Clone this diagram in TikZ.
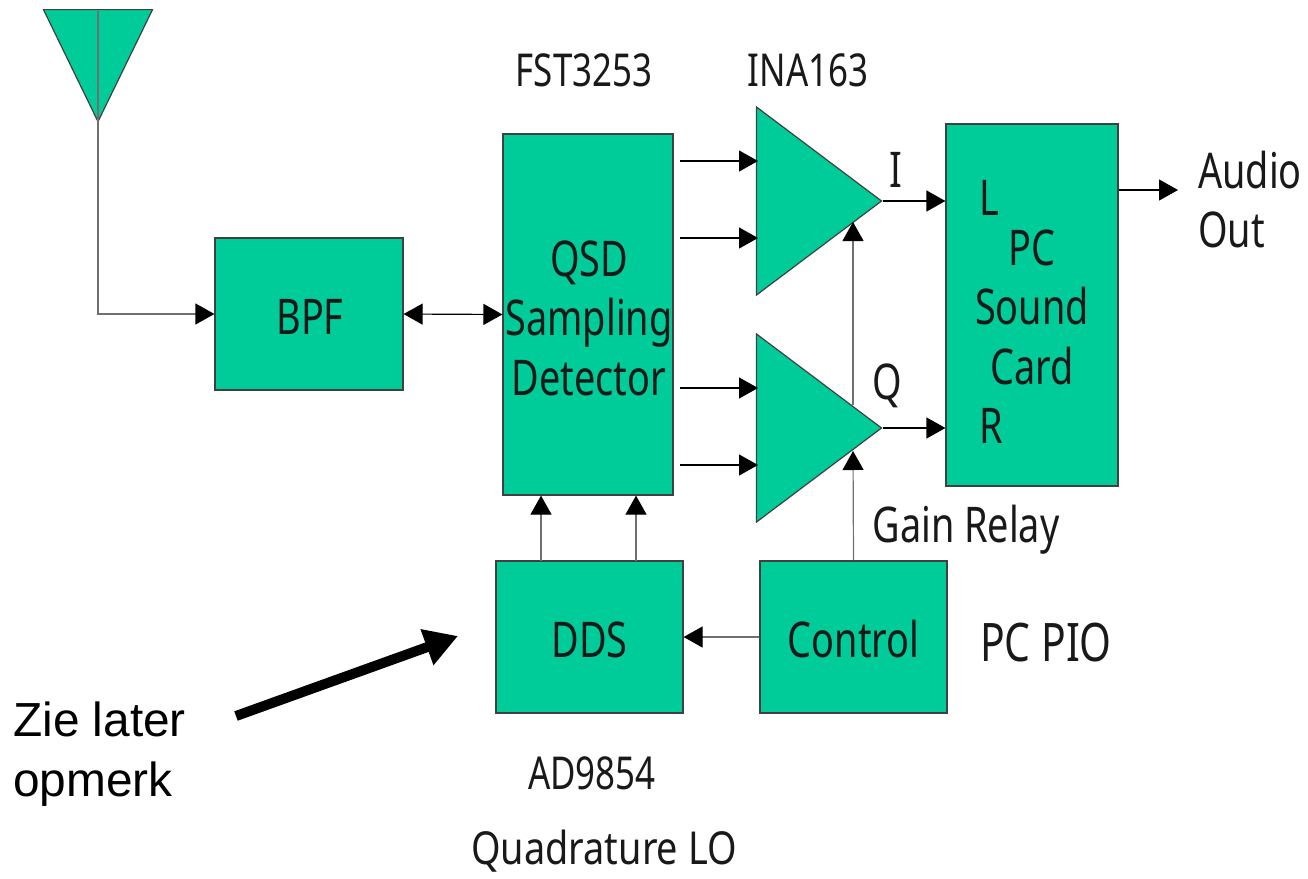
\documentclass[tikz,border=0pt]{standalone}
\usepackage{fontspec}
\setmainfont{Noto Sans}
\newfontfamily\notefont{Liberation Sans}
\usetikzlibrary{arrows.meta,shapes.geometric,positioning,calc}
\definecolor{block}{HTML}{00CC99}
\definecolor{wire}{HTML}{707070}
\newcommand\tall[2][c]{\scalebox{1}[1.3]{\begin{tabular}{@{}#1@{}}#2\end{tabular}}}
\begin{document}
\begin{tikzpicture}[
  x=1bp, y=-1bp,
  every node/.style={font=\fontsize{38}{46}\selectfont, inner sep=0pt},
  blockbox/.style={rectangle, draw=black!75, fill=block, line width=1.2bp, align=center},
  amp/.style={isosceles triangle, isosceles triangle apex angle=74,
              isosceles triangle stretches, draw=black!75, fill=block, line width=1.2bp,
              minimum width=188bp, minimum height=125bp, anchor=apex},
  caption/.style={text=black!90, yshift=-5bp},
  chipname/.style={caption, font=\fontsize{35}{46}\selectfont},
  arr/.style={-{Triangle[length=19bp,width=21bp]}, line width=1.2bp},
  grayarr/.style={arr, draw=wire, -{Triangle[length=19bp,width=21bp,color=black]}},
]
\useasboundingbox (0,0) rectangle (1308,878);

% antenna
\node[isosceles triangle, isosceles triangle apex angle=52, isosceles triangle stretches,
      shape border rotate=-90, draw=black!75, fill=block, line width=1.2bp,
      minimum width=109bp, minimum height=112bp, anchor=apex] (ant) at (98,123) {};
\coordinate (anttop) at (98,11);

\node[blockbox, minimum width=188bp, minimum height=152bp] (bpf) at (309,314) {};
\node[caption] (bpftext) at (310,318) {\tall{BPF}};
\node[blockbox, minimum width=170bp, minimum height=361bp] (qsd) at (588,314.5) {};
\node[caption] (qsdtext) at (589,319) {\tall{QSD\\Sampling\\Detector}};
\node[blockbox, minimum width=172bp, minimum height=362bp] (card) at (1032,305) {};
\node[blockbox, minimum width=187bp, minimum height=152bp] (dds) at (589.5,637) {};
\node[caption] (ddstext) at (589.5,641) {\tall{DDS}};
\node[blockbox, minimum width=187bp, minimum height=152bp] (ctrl) at (853.5,637) {};
\node[caption] (ctrltext) at (853.5,641) {\tall{Control}};

% control lines go under the amplifiers
\coordinate (gaintop) at (853,222);
\coordinate (gainmid) at (853,405);
\coordinate (gainlow) at (853,451);
\draw[draw=wire, line width=1.2bp] (gainmid) -- (853,300);
\node[amp] (ampi) at (882.5,201) {};
\node[amp] (ampq) at (882.5,428) {};

\draw[draw=wire, line width=1.2bp] (anttop) -- (ant.apex);
\draw[grayarr] (ant.apex) |- (bpf.west);
\draw[line width=1.2bp, {Triangle[length=19bp,width=21bp]}-{Triangle[length=19bp,width=21bp]}] (bpf.east) -- (qsd.west);

% mixer outputs
\foreach \y/\n in {161/a,238/b,388/c,465/d}{
  \coordinate (out\n) at (680,\y);
  \coordinate (in\n) at (758,\y);
  \draw[arr] (out\n) -- (in\n);
}
\draw[grayarr] (gainmid) -- (gaintop);
\draw[grayarr] (ctrl.north) -- (gainlow);
\draw[arr] (ampi.apex) -- (ampi.apex -| card.west);
\draw[arr] (ampq.apex) -- (ampq.apex -| card.west);
\coordinate (audio) at (1178,190);
\draw[arr] (audio -| card.east) -- (audio);
\draw[grayarr] (ctrl.west) -- (dds.east);
\coordinate (ddsa) at (541,561);
\coordinate (ddsb) at (636,561);
\draw[grayarr] (ddsa) -- (ddsa |- qsd.south);
\draw[grayarr] (ddsb) -- (ddsb |- qsd.south);

\node[chipname] (fst) at (584,70) {\tall{FST3253}};
\node[chipname] (ina) at (808,70) {\tall{INA163}};
\node[caption] (ilabel) at (896,171) {\tall{I}};
\node[caption] (qlabel) at (887,383) {\tall{Q}};
\node[caption] (llabel) at (989,199) {\tall{L}};
\node[caption] (rlabel) at (991,427) {\tall{R}};
\node[caption] (cardtext) at (1032,308) {\tall{PC\\Sound\\Card}};
\node[caption, anchor=west] (audiotext) at (1198,201) {\tall[l]{Audio\\Out}};
\node[caption] (gain) at (966,526) {\tall{Gain Relay}};
\node[caption, font=\fontsize{41}{46}\selectfont] (pio) at (1046,645) {\tall{PC PIO}};
\node[chipname] (ad) at (592,773) {\tall{AD9854}};
\node[text=black!90] (lo) at (604,851) {\scalebox{1}[1.2]{Quadrature LO}};

\node[font=\notefont\fontsize{48}{60}\selectfont, align=left, anchor=west] (note) at (13,754) {Zie later\\opmerk};
\coordinate (notestart) at (236,716);
\coordinate (noteend) at (458,636);
\draw[-{Triangle[length=33bp,width=36bp]}, line width=10bp] (notestart) -- (noteend);
\end{tikzpicture}
\end{document}
